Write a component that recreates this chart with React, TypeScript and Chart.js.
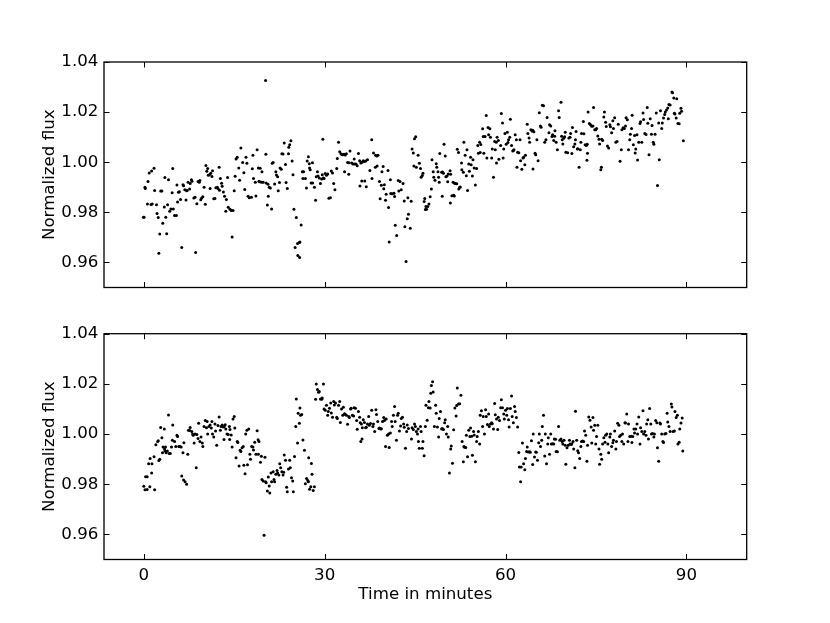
import React, { useEffect, useRef } from "react";
import { Chart, registerables } from "chart.js";

Chart.register(...registerables);

// ---- axis settings ----
const xLimits = [-6.6, 100];
const yLimits = [0.95, 1.04];
const xTickValues = [0, 30, 60, 90];
const yTickValues = [0.96, 0.98, 1.0, 1.02, 1.04];
const yLabel = "Normalized flux";
const xLabel = "Time in minutes";

// ---- top panel data: [time in minutes, normalized flux] ----
const topPoints: [number, number][] = [
  [-0.06,0.978],[0.04,0.978],[0.2,0.990],[0.25,0.9895],[0.6,0.9833],[0.7,0.9923],[0.9,0.9957],[1.2,0.9831],[1.3,0.9965],[1.4,0.9833],[1.7,0.9976],[1.8,0.9887],[2.1,0.983],[2.2,0.9795],[2.4,0.9779],[2.5,0.9637],[2.65,0.9714],[2.8,0.9885],[3.0,0.9885],[3.15,0.9756],[3.4,0.9821],[3.5,0.9939],[3.65,0.978],[3.8,0.9715],[3.95,0.983],[4.1,0.993],[4.3,0.9804],[4.5,0.9813],[4.7,0.9878],[4.8,0.9975],[4.9,0.9813],[5.1,0.9787],[5.4,0.9787],[5.5,0.9909],[5.6,0.9841],[5.75,0.988],[5.9,0.9882],[6.1,0.9851],[6.3,0.966],[6.5,0.991],[6.6,0.9906],[6.8,0.989],[7.0,0.9849],[7.1,0.9886],[7.2,0.9887],[7.35,0.992],[7.6,0.9893],[7.7,0.9915],[7.9,0.993],[8.0,0.9924],[8.3,0.9857],[8.5,0.986],[8.6,0.964],[8.8,0.9834],[9.0,0.9923],[9.2,0.992],[9.3,0.9927],[9.45,0.985],[9.6,0.9857],[9.8,0.9862],[10.0,0.99],[10.2,0.9832],[10.3,0.9987],[10.45,0.9964],[10.6,0.9975],[10.7,0.9948],[10.9,0.995],[11.0,0.9895],[11.1,0.9956],[11.3,0.9943],[11.4,0.9966],[11.6,0.9854],[11.8,0.9855],[11.95,0.9898],[12.2,0.99],[12.3,0.9895],[12.5,0.998],[12.55,0.9888],[12.7,0.9935],[12.9,0.9916],[13.0,0.9904],[13.2,0.9881],[13.4,0.9864],[13.6,0.9804],[13.7,0.9851],[13.9,0.9939],[14.0,0.982],[14.3,0.9812],[14.5,0.9807],[14.65,0.9702],[14.8,0.9807],[15.0,0.9886],[15.15,0.9944],[15.3,1.0013],[15.5,1.002],[15.75,0.9977],[15.9,0.9928],[16.1,1.0057],[16.4,0.9999],[16.6,0.9958],[16.75,0.9891],[16.95,1.002],[17.1,0.9996],[17.3,0.9864],[17.5,0.9858],[17.85,0.986],[18.0,0.9974],[18.1,1.0028],[18.2,0.9935],[18.5,0.992],[18.6,0.9865],[18.8,1.005],[19.1,0.9924],
  [19.0,0.9977],[19.2,0.9922],[19.3,0.9976],[19.5,0.992],[19.6,0.9962],[19.8,0.992],[20.2,1.0326],[20.25,1.0032],[20.3,0.9917],[20.5,0.9829],[20.6,0.9912],[20.65,0.9864],[20.8,0.99],[21.0,0.9897],[21.2,0.9813],[21.3,0.9996],[21.45,0.9999],[21.7,0.9913],[21.9,0.9962],[22.0,0.9949],[22.2,0.9942],[22.3,0.9886],[22.5,0.9919],[22.6,0.9977],[22.8,0.9972],[22.9,1.0034],[23.1,1.0033],[23.3,1.0077],[23.5,0.9991],[23.6,0.9919],[23.8,0.9895],[24.0,1.0034],[24.05,1.006],[24.2,1.007],[24.4,1.0086],[24.6,1.0005],[24.75,0.995],[24.9,0.9812],[25.1,0.966],[25.3,0.9779],[25.5,0.9676],[25.55,0.9628],[25.8,0.968],[25.85,0.962],[25.9,0.9682],[26.1,0.9749],[26.3,0.9962],[26.4,0.9935],[26.5,0.9962],[26.8,0.9935],[26.98,0.9897],[27.1,1.0005],[27.3,1.0022],[27.45,0.9994],[27.5,0.9977],[27.6,0.997],[27.75,0.9917],[27.97,0.9998],[28.0,0.9917],[28.3,0.99],[28.5,0.9848],[28.6,0.9942],[28.8,0.9962],[28.9,0.9945],[29.1,0.9937],[29.3,0.9915],[29.5,0.9933],[29.6,0.995],[29.7,1.0092],[29.8,0.9937],[29.9,0.9935],[30.1,0.9955],[30.3,0.9948],[30.5,0.9953],[30.7,0.9856],[30.95,0.9858],[31.1,0.9965],[31.3,0.9957],[31.5,0.9915],[31.7,0.989],[32.0,0.9975],[32.1,1.0015],[32.3,1.008],[32.5,1.0042],[32.7,1.0034],[32.85,1.0031],[33.0,1.003],[33.2,1.0032],[33.3,0.9962],[33.4,1.0029],[33.6,1.0034],[33.8,0.9999],[34.0,0.9952],[34.05,0.9998],[34.2,1.0045],[34.5,0.9997],[34.7,0.9993],[34.9,1.0013],[35.0,0.9993],[35.2,0.9993],[35.4,0.9986],[35.6,1.0035],[35.8,1.0006],[35.85,0.9905],[36.0,0.9997],[36.15,0.9925],[36.2,1.0],[36.4,1.0006],[36.6,1.0003],[36.65,0.9925],[36.8,1.0005],[36.9,0.9902],[37.1,1.001],[37.5,0.9967],[37.8,1.009],[37.85,0.9935],[38.1,1.0037],[38.4,0.998],[38.45,1.0028],[38.65,1.0025],[38.7,0.9985],[38.85,1.0028],[39.1,0.9923],[39.2,0.9854],[39.4,0.9908],[39.5,0.9962],[39.7,0.9983],[39.8,0.9894],[39.9,0.991],[40.1,0.9848],[40.2,0.9872],[40.5,0.9967],[40.6,0.9819],[40.7,0.9682],[40.9,0.993],[40.96,0.9875],[41.2,0.9874],[41.5,0.9876],[41.6,0.9863],[41.7,0.9748],[41.95,0.9708],[42.2,0.9927],[42.3,0.9885],[42.5,0.9923],[42.7,0.989],[43.0,0.9915],[43.2,0.9845],[43.3,0.9742],[43.5,0.9604],[43.7,0.9774],[43.8,0.9858],[43.9,0.9792],
  [44.2,0.9736],[44.35,0.9844],[44.5,1.0053],[44.7,1.0037],[44.8,0.9985],[44.9,1.0094],[45.1,1.0102],[45.2,0.998],[45.5,1.0028],[45.7,0.9996],[45.9,0.9975],[46.0,0.994],[46.2,0.9947],[46.3,0.9956],[46.5,0.9843],[46.6,0.9855],[46.7,0.9811],[46.8,0.9823],[46.9,0.9812],[47.1,0.9823],[47.3,0.9833],[47.5,0.9862],[47.7,0.9893],[47.8,1.001],[48.0,0.9962],[48.1,0.994],[48.3,0.9928],[48.5,0.9994],[48.6,0.998],[48.8,0.9962],[48.9,0.994],[49.0,0.992],[49.1,1.0035],[49.4,0.996],[49.5,0.9864],[49.55,0.9961],[49.7,0.9956],[49.8,1.0072],[50.0,1.0025],[50.1,0.9942],[50.3,0.9945],[50.4,0.9922],[50.5,0.9953],[50.8,0.9966],[50.85,0.9837],[50.9,0.9952],[51.1,0.9866],[51.3,0.992],[51.4,0.9868],[51.5,0.9865],[51.55,0.9916],[51.7,0.9915],[51.9,0.9914],[52.0,1.0052],[52.2,1.0039],[52.25,0.9893],[52.4,0.99],[52.5,0.9901],[52.7,0.9997],[52.75,0.997],[53.0,0.996],[53.1,1.008],[53.3,1.0028],[53.5,0.9946],[53.6,1.005],[53.7,0.9887],[53.9,0.9993],[54.0,0.9964],[54.2,1.002],[54.3,0.999],[54.5,0.9945],[54.6,1.001],[54.8,0.9977],[55.0,0.9909],[55.2,0.9975],[55.4,1.0067],[55.5,1.0036],[55.7,1.008],[55.8,1.0039],[55.9,1.0071],[56.2,1.0134],[56.3,1.0103],[56.4,1.0036],[56.6,1.0103],[56.8,1.0186],[56.9,1.0017],[57.1,1.0139],[57.2,1.011],[57.4,1.0134],[57.5,1.01],[57.7,1.0017],[57.8,1.0053],[58.0,0.994],[58.2,1.0083],[58.3,1.005],[58.45,1.008],[58.5,0.9997],[58.6,1.01],[58.8,1.0087],[58.9,1.0012],[59.2,1.0067],[59.3,1.0194],[59.5,1.0157],[59.6,1.0017],[59.7,1.0053],[59.9,1.0115],[60.1,1.0072],[60.3,1.012],[60.4,1.0079],[60.5,1.009],[60.7,1.01],[60.8,1.0172],[61.0,1.0067],[61.2,1.0045],[61.3,1.0047],[61.4,1.005],[61.6,1.011],[61.8,1.009],[61.9,0.998],[62.0,1.004],[62.2,1.0038],[62.4,1.009],[62.5,1.0006],[62.7,0.9972],[62.9,1.0017],[63.0,1.002],[63.2,0.999],[63.3,1.0028],[63.6,1.0152],[63.7,1.0115],[63.9,1.0097],[64.0,1.008],[64.2,1.013],[64.4,1.0125],[64.5,1.0128],[64.55,0.9973],[64.7,1.0122],[64.9,1.0036],[65.0,1.003],[65.2,1.009],[65.4,1.0006],[65.6,1.0197],[65.8,1.0145],[65.9,1.014],[66.1,1.0227],[66.3,1.0225],[66.5,1.008],[66.7,1.009],[66.9,1.0178],[67.2,1.0118],[67.3,1.015],[67.5,1.0145],[67.7,1.0103],[67.8,1.011],[68.0,1.0087],[68.15,1.0104],[68.2,1.0126],[68.4,1.008],[68.6,1.005],[68.8,1.0205],
  [68.9,1.0178],[69.2,1.0239],[69.3,1.0104],[69.4,1.009],[69.5,1.0073],[69.65,1.0096],[69.8,1.0102],[69.9,1.012],[70.0,1.004],[70.3,1.0038],[70.5,1.0097],[70.7,1.01],[70.8,1.0115],[71.0,1.0035],[71.1,1.0139],[71.3,1.0062],[71.5,1.0073],[71.6,1.009],[71.7,1.0123],[71.9,1.0053],[72.0,1.0054],[72.2,0.998],[72.4,1.005],[72.5,1.008],[72.6,1.0115],[72.9,1.0163],[73.0,1.0114],[73.2,1.007],[73.4,1.0067],[73.5,1.0008],[73.55,1.0072],[73.6,1.0036],[73.7,1.02],[73.9,1.0155],[74.1,1.015],[74.3,1.0144],[74.5,1.0145],[74.6,1.0218],[74.8,1.013],[74.96,1.013],[75.1,1.0135],[75.3,1.0105],[75.5,1.0092],[75.6,1.0073],[75.8,0.997],[75.9,0.998],[75.95,1.0092],[76.1,1.0087],[76.3,1.018],[76.4,1.02],[76.6,1.016],[76.7,1.0143],[76.9,1.0065],[77.1,1.0057],[77.3,1.015],[77.4,1.0142],[77.6,1.0118],[77.8,1.0166],[77.9,1.0135],[78.1,1.0177],[78.3,1.008],[78.5,1.0083],[78.7,1.0152],[79.0,1.0004],[79.2,1.005],[79.3,1.013],[79.5,1.0138],[79.7,1.0135],[79.9,1.0145],[80.0,1.0177],[80.2,1.017],[80.4,1.005],[80.6,1.009],[80.7,1.0112],[80.9,1.0135],[81.0,1.0187],[81.2,1.007],[81.4,1.0107],[81.5,1.0037],[81.6,1.0053],[81.8,1.011],[81.9,1.0009],[82.1,1.008],[82.3,1.0155],[82.4,1.0162],[82.6,1.008],[82.8,1.0196],[82.9,1.0171],[83.1,1.0115],[83.3,1.0111],[83.5,1.0218],[83.6,1.0156],[83.8,1.003],[84.0,1.0174],[84.2,1.0112],[84.3,1.0147],[84.5,1.008],[84.6,1.0072],[84.8,1.0112],[85.0,1.0196],[85.2,0.9907],[85.4,1.0157],[85.5,1.001],[85.7,1.0205],[85.9,1.0135],[86.0,1.0157],[86.2,1.0176],[86.4,1.019],[86.5,1.02],[86.7,1.0208],[86.9,1.0216],[87.0,1.0174],[87.1,1.023],[87.3,1.0228],[87.6,1.028],[87.7,1.0277],[87.9,1.0256],[88.0,1.0195],[88.1,1.0192],[88.3,1.0176],[88.4,1.0253],[88.6,1.0155],[88.8,1.0154],[88.9,1.0195],[89.1,1.0215],[89.2,1.0203],[89.5,1.0086],
];

// ---- bottom panel data: [time in minutes, normalized flux] ----
const bottomPoints: [number, number][] = [
  [0.0,0.9792],[0.2,0.9778],[0.3,0.983],[0.55,0.9779],[0.56,0.983],[0.8,0.9882],[1.0,0.979],[1.05,0.9903],[1.3,0.9845],[1.35,0.9882],[1.7,0.991],[1.8,0.9778],[2.0,0.9957],[2.3,0.997],[2.4,0.9973],[2.5,0.9895],[2.65,0.99],[2.8,1.0026],[3.0,0.9985],[3.1,0.9925],[3.2,0.9948],[3.4,1.002],[3.45,0.994],[3.5,0.9932],[3.6,0.9948],[3.7,0.9925],[3.9,0.9932],[4.1,1.0076],[4.2,0.9922],[4.4,0.9922],[4.6,0.9948],[4.75,0.9975],[4.8,1.0036],[5.1,0.997],[5.3,0.995],[5.5,0.9995],[5.6,0.999],[5.8,0.995],[6.0,0.995],[6.2,0.9948],[6.3,0.9833],[6.5,0.9925],[6.6,0.9817],[6.65,0.9965],[6.85,0.981],[7.1,0.98],[7.3,0.992],[7.4,1.0015],[7.6,1.0014],[7.7,1.0026],[7.96,1.001],[8.1,1.0],[8.2,0.9995],[8.35,0.9964],[8.5,1.0],[8.7,0.9866],[8.8,0.9998],[9.0,0.9982],[9.1,1.0043],[9.3,0.997],[9.5,0.9988],[9.7,0.9964],[9.8,0.995],[10.0,1.003],[10.2,1.0054],[10.4,1.0025],[10.5,1.005],[10.6,1.0],[10.8,1.003],[11.0,1.0036],[11.2,1.0024],[11.3,1.005],[11.4,1.0],[11.6,0.9988],[11.8,1.004],[11.9,1.0012],[12.1,0.9955],[12.3,1.0034],[12.5,1.0068],[12.7,1.0015],[12.8,1.003],[13.0,1.0036],[13.2,1.0028],[13.3,0.9978],[13.35,1.003],[13.5,1.0037],[13.6,1.002],[13.8,1.0],[14.0,0.9998],[14.2,1.003],[14.25,0.9978],[14.3,1.0018],[14.5,0.9996],[14.65,0.9948],[14.8,1.006],[15.0,1.007],[15.1,1.0024],[15.3,0.9906],[15.5,0.997],[15.6,0.9966],[15.8,0.9873],[15.98,0.9935],[16.1,0.993],[16.3,0.9945],[16.5,0.995],[16.6,0.9876],[16.8,0.9842],[16.9,1.0],[17.1,1.0015],[17.2,0.9878],[17.4,1.002],[17.6,0.992],[17.7,0.99],[17.9,0.995],[18.1,0.9948],[18.2,0.9936],[18.4,0.9967],[18.6,0.992],[18.8,1.0013],[18.96,0.9977],[19.0,0.992],
  [19.1,0.997],[19.35,0.9888],[19.5,0.9912],[19.6,0.9819],[19.8,0.9813],[19.95,0.9597],[20.1,0.9908],[20.2,0.981],[20.3,0.9806],[20.5,0.9773],[20.65,0.9829],[20.8,0.9793],[20.9,0.9765],[21.1,0.9845],[21.2,0.981],[21.45,0.985],[21.6,0.9819],[21.7,0.981],[21.9,0.984],[22.1,0.9855],[22.2,0.9845],[22.4,0.9837],[22.55,0.9882],[22.7,0.9866],[22.9,0.985],[23.1,0.9837],[23.2,0.9848],[23.3,0.9917],[23.5,0.9896],[23.7,0.9788],[23.8,0.977],[24.0,0.9861],[24.2,0.9896],[24.3,0.9866],[24.5,0.9826],[24.7,0.9813],[24.8,0.977],[25.0,0.9911],[25.2,1.003],[25.3,1.014],[25.5,0.9964],[25.6,1.0083],[25.8,1.0043],[25.9,1.0104],[26.0,1.0075],[26.2,1.0078],[26.4,0.9976],[26.65,0.9935],[26.8,0.9802],[27.0,0.9823],[27.2,0.9815],[27.3,0.981],[27.35,0.9906],[27.5,0.978],[27.7,0.979],[27.8,0.9883],[27.9,0.984],[28.1,0.9775],[28.3,0.979],[28.5,1.0139],[28.6,1.02],[28.8,1.0178],[29.0,1.0167],[29.1,1.017],[29.3,1.014],[29.5,1.0139],[29.6,1.0144],[29.8,1.02],[29.9,1.01],[30.1,1.0095],[30.3,1.0115],[30.5,1.0075],[30.6,1.009],[30.8,1.0103],[31.0,1.0124],[31.1,1.0084],[31.3,1.0067],[31.5,1.013],[31.6,1.0116],[31.8,1.0124],[32.0,1.0067],[32.1,1.0062],[32.3,1.0115],[32.5,1.013],[32.6,1.0046],[32.8,1.01],[33.0,1.0075],[33.1,1.0107],[33.3,1.0081],[33.4,1.0079],[33.6,1.0075],[33.8,1.0039],[34.0,1.007],[34.1,1.0066],[34.3,1.01],[34.4,1.0103],[34.6,1.0075],[34.8,1.0072],[34.9,1.0105],[35.1,1.0103],[35.3,1.0054],[35.4,1.0019],[35.6,1.009],[35.8,1.0067],[35.9,1.0045],[36.0,0.997],[36.1,1.004],[36.2,0.998],[36.25,1.0025],[36.4,1.0057],[36.6,1.0046],[36.8,1.0025],[36.9,1.0027],[37.1,1.004],[37.3,1.007],[37.4,1.0035],[37.6,1.0042],[37.8,1.0095],[38.0,1.003],[38.1,1.004],[38.3,1.001],[38.5,1.0097],[38.6,1.0078],[38.8,1.005],[39.0,1.0022],[39.1,1.0024],[39.3,1.002],[39.4,1.0021],[39.6,1.005],[39.8,1.0066],[39.9,1.0054],[40.1,0.995],[40.2,1.006],[40.4,0.9995],[40.6,1.0],[40.7,0.9946],[40.9,1.0004],[41.1,1.005],[41.2,1.003],[41.4,1.0075],[41.6,1.011],[41.7,1.005],[41.9,0.9975],[42.1,1.0075],[42.2,1.0083],[42.4,1.0012],[42.6,1.0032],[42.7,1.0062],[42.9,1.0067],[43.1,1.004],[43.2,1.0027],[43.4,0.9943],[43.6,1.001],[43.7,1.0036],[43.9,1.0022],
  [44.4,0.998],[44.5,1.0025],[44.7,1.0018],[44.9,1.004],[45.05,1.003],[45.2,1.001],[45.4,1.0],[45.5,1.002],[45.55,0.997],[45.7,0.9943],[45.9,1.003],[46.0,1.001],[46.2,0.9943],[46.3,0.997],[46.5,0.9914],[46.7,1.003],[46.8,1.0115],[47.0,1.0055],[47.2,1.0105],[47.3,1.013],[47.5,1.0104],[47.6,1.0163],[47.7,1.0194],[47.9,1.0208],[48.0,1.0168],[48.2,1.003],[48.4,1.0115],[48.5,1.0083],[48.7,1.0028],[48.9,0.9988],[49.0,1.0062],[49.2,1.009],[49.4,1.002],[49.5,1.0022],[49.7,1.0018],[49.9,1.0045],[50.0,1.0057],[50.2,1.0],[50.4,1.003],[50.5,0.9988],[50.7,0.9845],[50.9,0.994],[51.0,0.9952],[51.2,0.9884],[51.4,1.0017],[51.6,1.0104],[51.8,1.0072],[51.9,1.0114],[52.0,1.0184],[52.2,1.012],[52.4,1.0121],[52.6,1.0155],[52.8,0.997],[53.0,0.989],[53.1,0.995],[53.2,0.9947],[53.4,0.9946],[53.5,0.9995],[53.7,0.991],[53.9,1.0015],[54.1,0.999],[54.2,1.0024],[54.4,0.9991],[54.5,0.9916],[54.7,1.001],[54.8,0.9996],[55.0,0.989],[55.2,0.997],[55.3,0.999],[55.5,1.001],[55.7,0.996],[55.8,1.0075],[56.0,1.0093],[56.2,1.003],[56.3,1.007],[56.5,1.0],[56.7,1.0097],[56.8,1.007],[57.0,1.0038],[57.2,1.008],[57.3,1.003],[57.5,1.004],[57.7,1.0045],[57.8,1.0041],[58.0,1.002],[58.2,1.0122],[58.3,1.0077],[58.5,1.006],[58.7,1.0018],[58.8,1.0067],[59.0,1.0054],[59.2,1.0105],[59.3,1.0137],[59.5,1.0105],[59.7,1.008],[59.8,1.006],[60.0,1.0095],[60.2,1.0075],[60.3,1.0102],[60.5,1.0057],[60.6,1.0028],[60.8,1.0102],[61.0,1.0152],[61.1,1.007],[61.3,1.0045],[61.5,1.011],[61.6,1.009],[61.8,1.0066],[62.0,1.0028],[62.2,0.9926],[62.3,0.9869],[62.5,0.981],[62.6,0.9869],[62.8,0.9964],[63.0,0.9882],[63.2,0.9858],[63.3,0.9903],[63.5,0.993],[63.6,0.9948],[63.8,0.9928],[64.0,0.9929],[64.1,0.9927],[64.3,0.9973],[64.5,0.9879],[64.6,1.0],[64.8,0.9909],[65.0,0.9928],[65.1,0.9927],[65.3,0.9896],[65.5,0.9965],[65.6,1.0],[65.8,0.995],[66.0,0.9975],[66.1,1.003],[66.3,1.0075],[66.5,0.9913],[66.6,1.0],[66.8,0.9882],[67.0,0.996],[67.1,0.9985],[67.3,0.992],[67.5,1.0],[67.6,0.996],[67.8,0.9961],[68.0,0.996],[68.1,0.998],[68.3,0.9979],[68.4,0.993],[68.6,0.9929],[68.8,1.003],
  [69.0,0.9975],[69.2,0.998],[69.4,0.997],[69.5,0.996],[69.7,0.9975],[69.9,0.9955],[70.0,0.988],[70.2,0.9945],[70.4,0.9955],[70.6,0.9975],[70.7,0.996],[70.9,0.9958],[71.0,0.9961],[71.2,0.997],[71.3,0.994],[71.5,0.9866],[71.6,1.0091],[71.8,0.9975],[71.97,0.9933],[72.1,0.9925],[72.3,0.9903],[72.5,0.995],[72.6,0.997],[72.8,0.9972],[72.96,0.997],[73.1,1.0012],[73.3,0.9995],[73.5,0.9892],[73.6,0.9955],[73.8,1.0068],[74.0,1.0055],[74.2,1.0028],[74.3,0.9964],[74.5,1.0066],[74.6,1.0015],[74.8,1.0035],[74.96,0.996],[75.1,0.999],[75.3,1.0035],[75.5,0.994],[75.6,0.988],[75.8,0.992],[75.95,0.99],[76.1,0.996],[76.3,0.9985],[76.5,0.9967],[76.6,0.9995],[76.8,1.0],[76.97,0.996],[77.1,0.9925],[77.3,0.9988],[77.4,1.0],[77.6,0.995],[77.8,0.9965],[77.9,0.9975],[78.1,1.0012],[78.3,0.994],[78.4,0.997],[78.6,1.0043],[78.8,1.0035],[78.9,0.999],[79.1,0.9995],[79.3,0.997],[79.4,1.0],[79.6,0.996],[79.8,1.0045],[79.9,1.0044],[80.1,1.008],[80.3,0.997],[80.4,1.004],[80.6,0.999],[80.8,0.9991],[80.96,0.9966],[81.1,0.999],[81.3,1.002],[81.4,1.0004],[81.6,1.002],[81.8,1.004],[81.9,1.0],[82.1,1.0068],[82.3,0.996],[82.4,1.0025],[82.6,1.001],[82.8,1.0093],[82.9,1.0],[83.1,1.001],[83.3,0.9995],[83.4,1.004],[83.6,1.0057],[83.7,0.998],[83.9,1.0102],[84.1,1.004],[84.2,1.0],[84.4,1.0002],[84.6,0.9988],[84.7,1.0],[84.9,1.0054],[85.1,1.0045],[85.2,0.9945],[85.4,0.9892],[85.6,1.0044],[85.7,1.004],[85.9,1.0],[86.1,0.997],[86.2,0.9966],[86.4,1.0],[86.6,1.0002],[86.8,1.0083],[86.9,1.0048],[87.1,1.003],[87.3,1.001],[87.5,1.012],[87.6,1.0108],[87.8,1.001],[88.0,1.0012],[88.1,1.009],[88.3,1.0066],[88.5,1.0075],[88.6,0.996],[88.8,0.9967],[88.9,1.002],[89.1,1.0044],[89.3,1.0064],[89.4,0.9932],
];

const FONT = { family: "'DejaVu Sans', 'Liberation Sans', sans-serif", size: 16.67, lineHeight: 1.2 };

// Draws the matplotlib-style frame with inward ticks on all four sides
const framePlugin = {
  id: "mplFrame",
  afterDatasetsDraw(chart: any) {
    const { ctx, chartArea, scales } = chart;
    const { left, right, top, bottom } = chartArea;
    const xs = scales.x;
    const ys = scales.y;
    ctx.save();
    ctx.strokeStyle = "#000";
    ctx.lineWidth = 1.3;
    ctx.strokeRect(left, top, right - left, bottom - top);
    ctx.lineWidth = 1;
    const len = 5.5;
    ctx.beginPath();
    for (const v of xTickValues) {
      const px = Math.round(xs.getPixelForValue(v)) + 0.5;
      ctx.moveTo(px, bottom);
      ctx.lineTo(px, bottom - len);
      ctx.moveTo(px, top);
      ctx.lineTo(px, top + len);
    }
    for (const v of yTickValues) {
      const py = Math.round(ys.getPixelForValue(v)) + 0.5;
      ctx.moveTo(left, py);
      ctx.lineTo(left + len, py);
      ctx.moveTo(right, py);
      ctx.lineTo(right - len, py);
    }
    ctx.stroke();
    ctx.restore();
  },
};

function makeConfig(
  points: [number, number][],
  showX: boolean,
  padTop: number,
  xHeight: number
): any {
  return {
    type: "scatter",
    data: {
      datasets: [
        {
          data: points.map(([x, y]) => ({ x, y })),
          backgroundColor: "#000",
          borderColor: "#000",
          borderWidth: 0,
          pointRadius: 1.5,
          pointHoverRadius: 1.5,
        },
      ],
    },
    options: {
      animation: false,
      responsive: false,
      events: [],
      layout: { padding: { left: 0, top: padTop, right: 83.3, bottom: 0 } },
      plugins: { legend: { display: false }, tooltip: { enabled: false } },
      scales: {
        x: {
          type: "linear",
          min: xLimits[0],
          max: xLimits[1],
          afterBuildTicks: (s: any) => {
            s.ticks = xTickValues.map((v) => ({ value: v }));
          },
          afterFit: (s: any) => {
            s.height = xHeight;
          },
          grid: { display: false, drawTicks: false },
          border: { display: false },
          ticks: {
            display: showX,
            padding: 6.5,
            color: "#000",
            font: FONT,
            maxRotation: 0,
            autoSkip: false,
            callback: (v: any) => String(v),
          },
          title: {
            display: showX,
            text: xLabel,
            color: "#000",
            font: FONT,
            padding: { top: 0, bottom: 17.9 },
          },
        },
        y: {
          type: "linear",
          min: yLimits[0],
          max: yLimits[1],
          afterBuildTicks: (s: any) => {
            s.ticks = yTickValues.map((v) => ({ value: v }));
          },
          afterFit: (s: any) => {
            s.width = 104;
          },
          grid: { display: false, drawTicks: false },
          border: { display: false },
          ticks: {
            padding: 5.6,
            color: "#000",
            font: FONT,
            autoSkip: false,
            callback: (v: any) => Number(v).toFixed(2),
          },
          title: {
            display: true,
            text: yLabel,
            color: "#000",
            font: FONT,
            padding: { top: 39.2, bottom: 0 },
          },
        },
      },
    },
    plugins: [framePlugin],
  };
}

export default function App() {
  const topRef = useRef<HTMLCanvasElement>(null);
  const botRef = useRef<HTMLCanvasElement>(null);

  useEffect(() => {
    document.body.style.margin = "0";
    const c1 = new Chart(topRef.current as HTMLCanvasElement, makeConfig(topPoints, false, 62, 22.5));
    const c2 = new Chart(botRef.current as HTMLCanvasElement, makeConfig(bottomPoints, true, 23.7, 63.5));
    return () => {
      c1.destroy();
      c2.destroy();
    };
  }, []);

  return (
    <div style={{ position: "fixed", left: 0, top: 0, width: 830, height: 623, background: "#fff" }}>
      <canvas
        ref={topRef}
        width={830}
        height={310}
        style={{ position: "absolute", left: 0, top: 0, width: 830, height: 310 }}
      />
      <canvas
        ref={botRef}
        width={830}
        height={313}
        style={{ position: "absolute", left: 0, top: 310, width: 830, height: 313 }}
      />
    </div>
  );
}
